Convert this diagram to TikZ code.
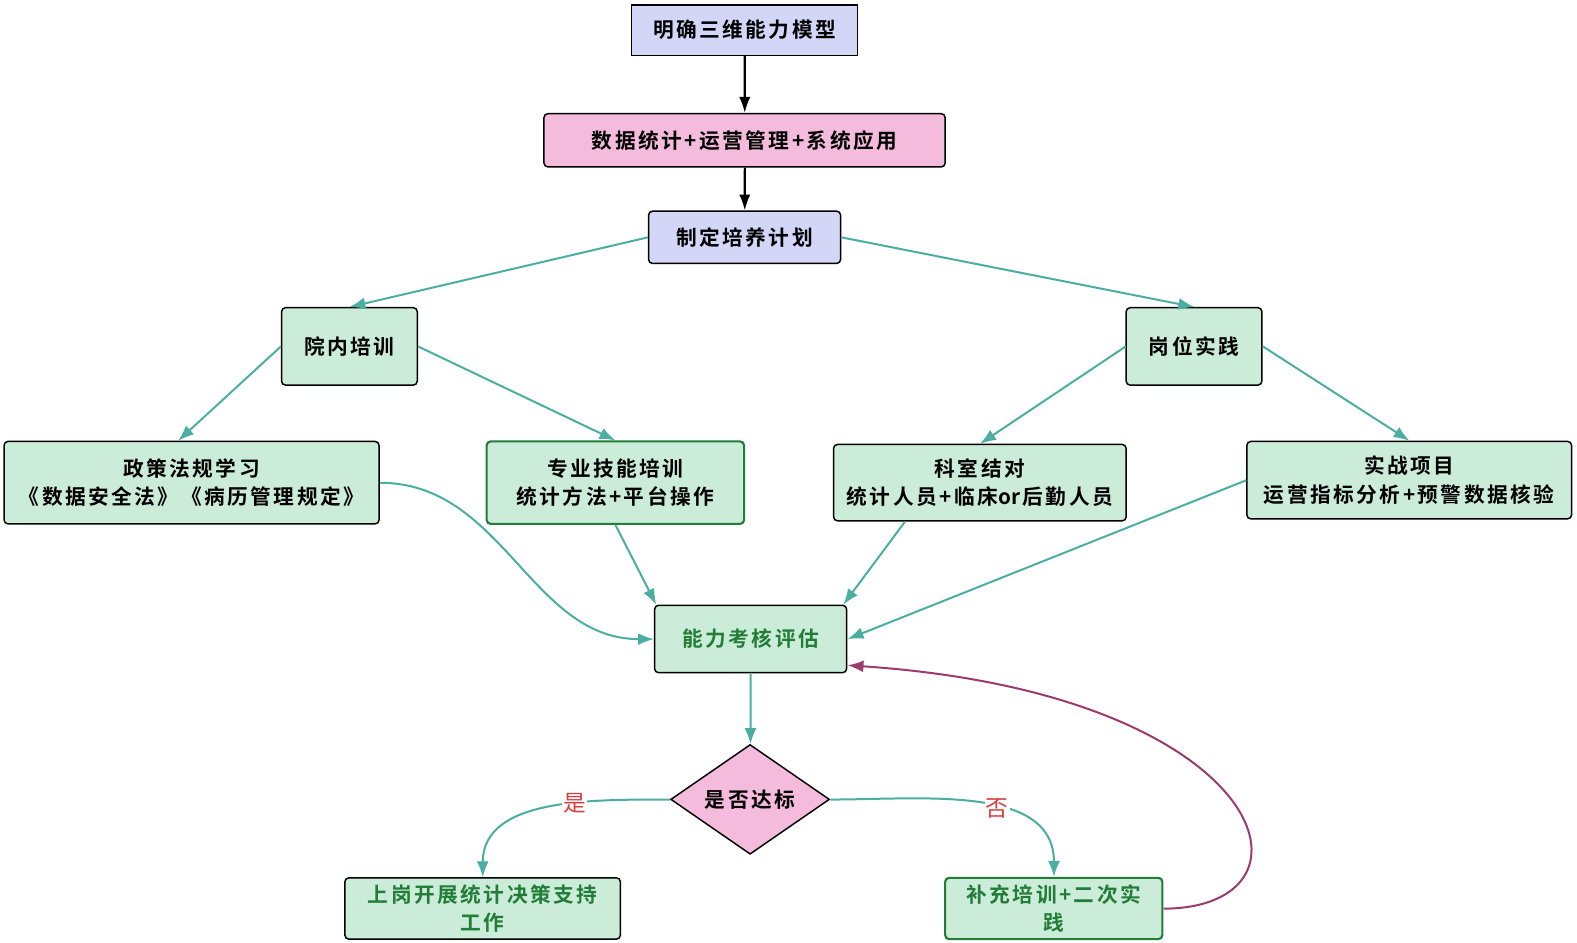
\documentclass[tikz,border=0pt]{standalone}
\usepackage{fontspec}
\setmainfont{Noto Sans CJK SC}[BoldFont={* Bold},LetterSpace=12]
\newfontfamily\lblfont{Noto Sans CJK SC}
\usetikzlibrary{shapes.geometric,arrows.meta}
\definecolor{lav}{RGB}{212,214,247}
\definecolor{pinkf}{RGB}{244,187,220}
\definecolor{greenf}{RGB}{204,236,218}
\definecolor{teal2}{RGB}{74,174,160}
\definecolor{dgreen}{RGB}{34,125,55}
\definecolor{purp}{RGB}{155,58,110}
\definecolor{redl}{RGB}{220,60,60}
\tikzset{
  box/.style={draw=black,line width=1.1pt,rounded corners=3pt,align=center,inner sep=2pt,font=\fontsize{15.5}{21}\selectfont\bfseries},
  lavbox/.style={box,fill=lav},
  pinkbox/.style={box,fill=pinkf},
  grbox/.style={box,fill=greenf},
  gbord/.style={draw=dgreen,line width=1.6pt},
  gtext/.style={text=dgreen},
  blk/.style={-{Latex[length=12pt,width=8.5pt]},line width=1.6pt,black},
  tl/.style={-{Latex[length=12pt,width=9pt]},line width=1.5pt,teal2},
  pl/.style={-{Latex[length=12pt,width=9pt]},line width=1.5pt,purp},
  lbl/.style={fill=white,inner sep=1pt,text=redl,font=\fontsize{17}{19}\lblfont}
}
\begin{document}
\begin{tikzpicture}[x=0.75bp,y=-0.75bp]
\useasboundingbox (0,0) rectangle (1577,942);
\begin{scope}[scale=1.0055,transform shape]
\node[lavbox,rounded corners=0pt,minimum width=168.75bp,minimum height=37.5bp] (n1) at (740.5,30) {明确三维能力模型};
\node[pinkbox,minimum width=299.25bp,minimum height=39.75bp] (n2) at (740.5,139.5) {数据统计+运营管理+系统应用};
\node[lavbox,minimum width=143.25bp,minimum height=39bp] (n3) at (740.5,236) {制定培养计划};
\node[grbox,minimum width=101.25bp,minimum height=57.75bp] (n4) at (347.5,344.5) {院内培训};
\node[grbox,minimum width=101.25bp,minimum height=57.75bp] (n5) at (1187.5,344.5) {岗位实践};
\node[grbox,minimum width=279.75bp,minimum height=61.5bp] (n6) at (190.5,480) {政策法规学习\\《数据安全法》《病历管理规定》};
\node[grbox,gbord,minimum width=192bp,minimum height=61.5bp] (n7) at (612,480) {专业技能培训\\统计方法+平台操作};
\node[grbox,minimum width=218.25bp,minimum height=57bp] (n8) at (974.5,480) {科室结对\\统计人员+临床{\addfontfeatures{LetterSpace=2}o}r后勤人员};
\node[grbox,minimum width=242.25bp,minimum height=57.75bp] (n9) at (1401.5,477.5) {实战项目\\运营指标分析+预警数据核验};
\node[grbox,gtext,minimum width=143.25bp,minimum height=50.25bp] (n10) at (746.5,635.5) {能力考核评估};
\node[draw=black,line width=1.1pt,fill=pinkf,shape=diamond,inner sep=0pt,minimum width=118.5bp,minimum height=73.5bp,font=\fontsize{15.5}{18}\selectfont\bfseries] (d) at (746,795) {是否达标};
\node[grbox,gtext,minimum width=205.5bp,minimum height=45.75bp] (n12) at (480,903.5) {上岗开展统计决策支持\\工作};
\node[grbox,gbord,gtext,minimum width=162bp,minimum height=45.75bp] (n13) at (1048,903.5) {补充培训+二次实\\践};

\draw[blk] (n1) -- (n2);
\draw[blk] (n2) -- (n3);
\draw[tl] (n3.west) -- (n4.north);
\draw[tl] (n3.east) -- (n5.north);
\draw[tl] (n4.west) -- ([xshift=-10bp]n6.north);
\draw[tl] (n4.east) -- (n7.north);
\draw[tl] (n5.west) -- (n8.north);
\draw[tl] (n5.east) -- (n9.north);
\draw[tl] (n6.east) to[out=0,in=180] (n10.west);
\draw[tl] (n7.south) -- ([xshift=-70.5bp]n10.north);
\draw[tl] ([xshift=-56bp]n8.south) -- ([xshift=69bp]n10.north);
\draw[tl] (n9.west) -- (n10.east);
\draw[tl] (n10) -- (d);
\draw[tl] (d.west) to[out=180,in=90] node[lbl,pos=0.38] {是} (n12.north);
\draw[tl] (d.east) to[out=0,in=90] node[lbl,pos=0.58] {否} (n13.north);
\draw[pl] (n13.east) .. controls (1325,903) and (1265,690) .. ([yshift=-19.5bp]n10.east);
\end{scope}
\end{tikzpicture}
\end{document}
